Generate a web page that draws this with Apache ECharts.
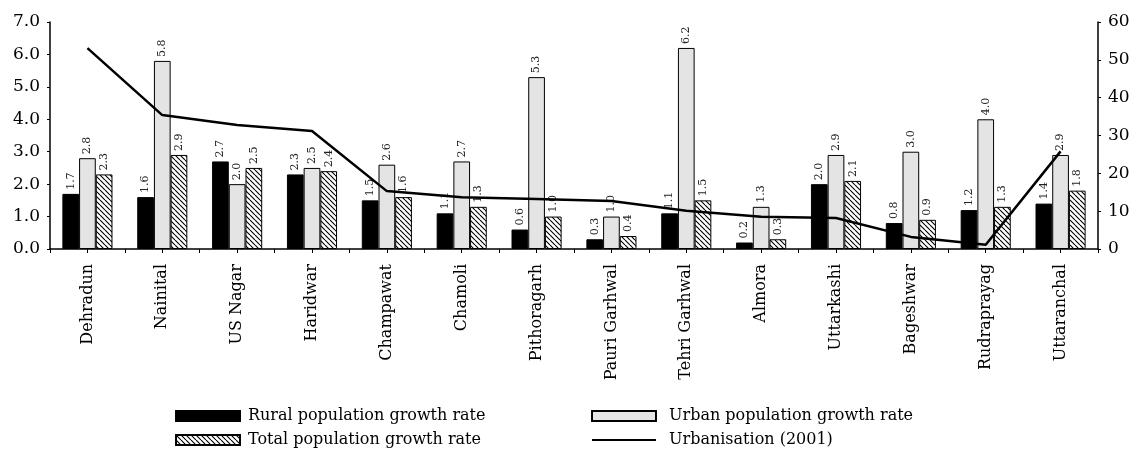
<!DOCTYPE html>
<html>
<head>
<meta charset="utf-8">
<script src="https://cdn.jsdelivr.net/npm/echarts@6/dist/echarts.min.js"></script>
<style>
html,body{margin:0;padding:0;background:#fff;}
#chart{width:1134px;height:451px;}
</style>
</head>
<body>
<div id="chart"></div>
<script>
var districts = ['Dehradun','Nainital','US Nagar','Haridwar','Champawat','Chamoli','Pithoragarh','Pauri Garhwal','Tehri Garhwal','Almora','Uttarkashi','Bageshwar','Rudraprayag','Uttaranchal'];
var ruralGrowth = [1.7,1.6,2.7,2.3,1.5,1.1,0.6,0.3,1.1,0.2,2.0,0.8,1.2,1.4];
var urbanGrowth = [2.8,5.8,2.0,2.5,2.6,2.7,5.3,1.0,6.2,1.3,2.9,3.0,4.0,2.9];
var totalGrowth = [2.3,2.9,2.5,2.4,1.6,1.3,1.0,0.4,1.5,0.3,2.1,0.9,1.3,1.8];
var urbanisation = [53.1,35.4,32.8,31.2,15.3,13.7,13.2,12.7,10.1,8.5,8.2,3.2,1.1,25.8];
// ticks between and at centre of categories
var halfTicks = [];
for(var i=0;i<districts.length*2;i++){ halfTicks.push(''+i); }

var FONT = 'DejaVu Serif';

// hatch fill for total bars
function hatch(){
	var s = 5;
	var c = document.createElement('canvas');
	c.width = s; c.height = s;
	var ctx = c.getContext('2d');
	ctx.fillStyle = '#fff';
	ctx.fillRect(0,0,s,s);
	ctx.strokeStyle = '#000';
	ctx.lineWidth = 1.1;
	ctx.beginPath();
	for(var k=-s;k<=s;k+=s){
		ctx.moveTo(k,0);
		ctx.lineTo(k+s,s);
	}
	ctx.stroke();
	return c;
}
var hatchFill = {image: hatch(), repeat: 'repeat'};

function barLabel(){
	return {
		show: true,
		position: 'top',
		rotate: 90,
		align: 'left',
		verticalAlign: 'middle',
		distance: 4,
		fontFamily: FONT,
		fontSize: 11,
		color: '#222',
		formatter: function(p){ return p.value.toFixed(1); }
	};
}

// thin line icon for the urbanisation legend entry
var lineIcon = 'path://M0,0L0.01,0L0.01,0.01Z M0,4H70V6.2H0Z M0,10L0.01,10L0.01,9.99Z';

var chart = echarts.init(document.getElementById('chart'));
var option = {
	animation: false,
	textStyle: {fontFamily: FONT, color: '#000'},
	grid: {left: 50, right: 36, top: 22, bottom: 202},
	legend: [{
		orient: 'vertical',
		left: 175,
		top: 407,
		padding: 0,
		itemWidth: 64,
		itemHeight: 10,
		itemGap: 6,
		textStyle: {fontFamily: FONT, fontSize: 16, color: '#000', lineHeight: 18, padding: [0,0,0,3]},
		data: [{name: 'Rural population growth rate', icon: 'rect'},
			{name: 'Total population growth rate', icon: 'rect'}]
	},{
		orient: 'vertical',
		left: 591,
		top: 407,
		padding: 0,
		itemWidth: 64,
		itemHeight: 10,
		itemGap: 6,
		textStyle: {fontFamily: FONT, fontSize: 16, color: '#000', lineHeight: 18, padding: [0,0,0,8]},
		data: [{name: 'Urban population growth rate', icon: 'rect'},
			{name: 'Urbanisation (2001)', icon: lineIcon, itemStyle: {color: '#000', borderWidth: 0}}]
	}],
	xAxis: [{
		type: 'category',
		data: districts,
		axisLine: {lineStyle: {color: '#000', width: 1.5}},
		axisTick: {show: true, length: 4, lineStyle: {color: '#000'}},
		axisLabel: {rotate: 90, interval: 0, margin: 15, fontFamily: FONT, fontSize: 16, color: '#000'}
	},{
		type: 'category',
		data: halfTicks,
		position: 'bottom',
		axisLine: {show: false},
		axisLabel: {show: false},
		axisTick: {show: true, interval: 0, alignWithLabel: false, length: 4, lineStyle: {color: '#000'}}
	}],
	yAxis: [{
		type: 'value',
		min: 0, max: 7, interval: 1,
		splitLine: {show: false},
		axisLine: {show: true, lineStyle: {color: '#000', width: 1.5}},
		axisTick: {show: true, length: 3, lineStyle: {color: '#000'}},
		axisLabel: {fontFamily: FONT, fontSize: 17, color: '#000', margin: 10,
			formatter: function(v){ return v.toFixed(1); }}
	},{
		type: 'value',
		min: 0, max: 60, interval: 10,
		position: 'right',
		splitLine: {show: false},
		axisLine: {show: true, lineStyle: {color: '#000', width: 1.5}},
		axisTick: {show: true, length: 3, lineStyle: {color: '#000'}},
		axisLabel: {fontFamily: FONT, fontSize: 17, color: '#000', margin: 10}
	}],
	series: [{
		name: 'Rural population growth rate',
		type: 'bar',
		data: ruralGrowth,
		barWidth: 16.7,
		barGap: '0%',
		itemStyle: {color: '#000', borderColor: '#000', borderWidth: 1},
		label: barLabel()
	},{
		name: 'Urban population growth rate',
		type: 'bar',
		data: urbanGrowth,
		barWidth: 16.7,
		barGap: '0%',
		itemStyle: {color: '#e4e4e4', borderColor: '#000', borderWidth: 1},
		label: barLabel()
	},{
		name: 'Total population growth rate',
		type: 'bar',
		data: totalGrowth,
		barWidth: 16.7,
		barGap: '0%',
		itemStyle: {color: hatchFill, borderColor: '#000', borderWidth: 1},
		label: barLabel()
	},{
		name: 'Urbanisation (2001)',
		type: 'line',
		yAxisIndex: 1,
		data: urbanisation,
		symbol: 'none',
		lineStyle: {color: '#000', width: 2.5},
		itemStyle: {color: '#000'}
	}]
};
chart.setOption(option);
</script>
</body>
</html>
